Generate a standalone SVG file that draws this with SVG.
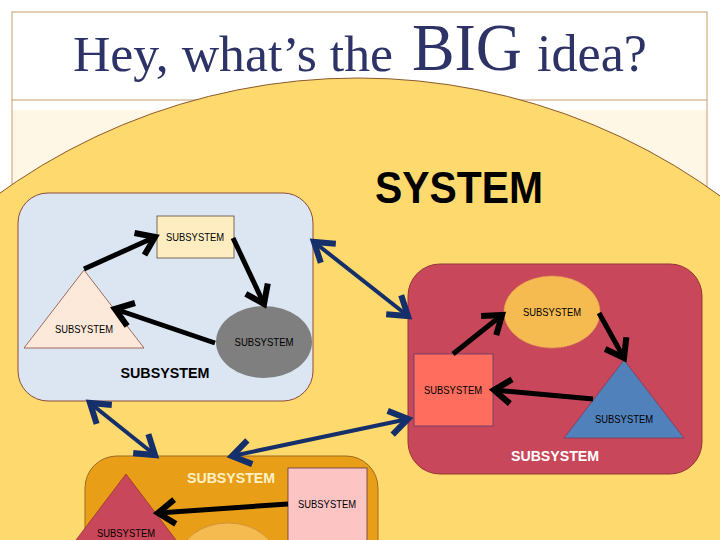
<svg xmlns="http://www.w3.org/2000/svg" width="720" height="540" viewBox="0 0 720 540">
<defs>
<style>
.lbl{font-family:"Liberation Sans",Arial,sans-serif;font-size:10.5px;fill:#000;text-anchor:middle}
.plbl{font-family:"Liberation Sans",Arial,sans-serif;font-size:14.5px;font-weight:bold;text-anchor:middle}
.blk{stroke:#000;stroke-width:5;fill:none;marker-end:url(#ah)}
.nav{stroke:#142f6a;stroke-width:4;fill:none;marker-end:url(#nh);marker-start:url(#nh)}
.panel{stroke-width:1}
</style>
<marker id="ah" markerUnits="userSpaceOnUse" markerWidth="34" markerHeight="34" viewBox="-18 -14 22 28" refX="0" refY="0" orient="auto">
<path d="M-14,-10 L0,0 L-14,10" fill="none" stroke="#000" stroke-width="5" stroke-linejoin="miter"/>
</marker>
<marker id="nh" markerUnits="userSpaceOnUse" markerWidth="34" markerHeight="34" viewBox="-18 -14 22 28" refX="0" refY="0" orient="auto-start-reverse">
<path d="M-15,-10 L0,0 L-15,10" fill="none" stroke="#142f6a" stroke-width="5" stroke-linejoin="miter"/>
</marker>
</defs>
<rect x="0" y="0" width="720" height="540" fill="#fff"/>
<rect x="12" y="110" width="695" height="440" fill="#fff7e5"/>
<rect x="12" y="12" width="695" height="540" fill="none" stroke="#c79c6c" stroke-width="1"/>
<line x1="12" y1="100" x2="707" y2="100" stroke="#c79c6c" stroke-width="1"/>
<circle cx="358" cy="693" r="615" fill="#fed96e" stroke="#8b5a2b" stroke-width="1"/>
<g id="title">
<text x="73" y="71" font-family="'Liberation Serif','Times New Roman',serif" font-size="51" fill="#2d3366" textLength="320" lengthAdjust="spacingAndGlyphs">Hey, what’s the</text>
<text x="412" y="70" font-family="'Liberation Serif','Times New Roman',serif" font-size="67" fill="#2d3366" textLength="110" lengthAdjust="spacingAndGlyphs">BIG</text>
<text x="537" y="71" font-family="'Liberation Serif','Times New Roman',serif" font-size="52" fill="#2d3366" textLength="110" lengthAdjust="spacingAndGlyphs">idea?</text>
</g>
<g id="system-label">
<text x="375" y="203" font-family="'Liberation Sans',Arial,sans-serif" font-size="44" font-weight="bold" fill="#000" textLength="168" lengthAdjust="spacingAndGlyphs">SYSTEM</text>
</g>
<g id="panel-blue">
<rect x="18" y="193" width="295" height="208" rx="30" fill="#dce6f2" stroke="#8b4a3a" class="panel"/>
<text x="165" y="378" class="plbl" fill="#000" textLength="89" lengthAdjust="spacingAndGlyphs">SUBSYSTEM</text>
</g>
<g id="blue-rect">
<rect x="157" y="216" width="77" height="42" fill="#fdedc0" stroke="#5a4a3a" stroke-width="0.8"/>
<text x="195" y="241" class="lbl" textLength="58" lengthAdjust="spacingAndGlyphs">SUBSYSTEM</text>
</g>
<g id="blue-tri">
<polygon points="84,270 24,348 144,348" fill="#fde9d9" stroke="#8b4a3a" stroke-width="0.8"/>
<text x="84" y="333" class="lbl" textLength="58" lengthAdjust="spacingAndGlyphs">SUBSYSTEM</text>
</g>
<g id="blue-ellipse">
<ellipse cx="264" cy="342" rx="48" ry="36" fill="#7f7f7f"/>
<text x="264" y="346" class="lbl" textLength="59" lengthAdjust="spacingAndGlyphs">SUBSYSTEM</text>
</g>
<g id="panel-red">
<rect x="408" y="264" width="294" height="210" rx="32" fill="#c9475a" stroke="#943634" class="panel"/>
<text x="555" y="461" class="plbl" fill="#fff" textLength="88" lengthAdjust="spacingAndGlyphs">SUBSYSTEM</text>
</g>
<g id="red-ellipse">
<ellipse cx="552" cy="312" rx="48" ry="36" fill="#f5bb50" stroke="#e0a050" stroke-width="0.8" stroke-dasharray="2,1"/>
<text x="552" y="316" class="lbl" textLength="58" lengthAdjust="spacingAndGlyphs">SUBSYSTEM</text>
</g>
<g id="red-rect">
<rect x="414" y="354" width="79" height="72" fill="#fe6d5d" stroke="#5a3a6a" stroke-width="0.8"/>
<text x="453" y="394" class="lbl" textLength="58" lengthAdjust="spacingAndGlyphs">SUBSYSTEM</text>
</g>
<g id="red-tri">
<polygon points="624,360 564,438 684,438" fill="#5181bb" stroke="#7a3a5a" stroke-width="0.8"/>
<text x="624" y="423" class="lbl" textLength="58" lengthAdjust="spacingAndGlyphs">SUBSYSTEM</text>
</g>
<g id="panel-orange">
<rect x="85" y="456" width="293" height="120" rx="32" fill="#e99e18" stroke="#9c6a1f" class="panel"/>
<text x="231" y="483" class="plbl" fill="#fff2c8" textLength="88" lengthAdjust="spacingAndGlyphs">SUBSYSTEM</text>
</g>
<g id="orange-rect">
<rect x="288" y="468" width="79" height="90" fill="#fdc4c4" stroke="#5a3a4a" stroke-width="0.8"/>
<text x="327" y="508" class="lbl" textLength="58" lengthAdjust="spacingAndGlyphs">SUBSYSTEM</text>
</g>
<g id="orange-tri">
<polygon points="126,474 26,606 226,606" fill="#c9475a" stroke="#943634" stroke-width="0.8"/>
<text x="126" y="537" class="lbl" textLength="58" lengthAdjust="spacingAndGlyphs">SUBSYSTEM</text>
</g>
<g id="orange-ellipse">
<ellipse cx="228" cy="559" rx="48" ry="36" fill="#f5bb50" stroke="#c89040" stroke-width="0.8"/>
</g>
<g id="connectors">
<line x1="84" y1="269" x2="155" y2="237" class="blk"/>
<line x1="233" y1="238" x2="264" y2="304" class="blk"/>
<line x1="215" y1="343" x2="115" y2="309" class="blk"/>
<line x1="453" y1="354" x2="502" y2="315" class="blk"/>
<line x1="599" y1="313" x2="624" y2="358" class="blk"/>
<line x1="593" y1="399" x2="494" y2="390" class="blk"/>
<line x1="288" y1="504" x2="158" y2="513" class="blk"/>
<line x1="314" y1="242" x2="408" y2="316" class="nav"/>
<line x1="90" y1="403" x2="155" y2="455" class="nav"/>
<line x1="232" y1="456" x2="408" y2="419" class="nav"/>
</g>
</svg>
